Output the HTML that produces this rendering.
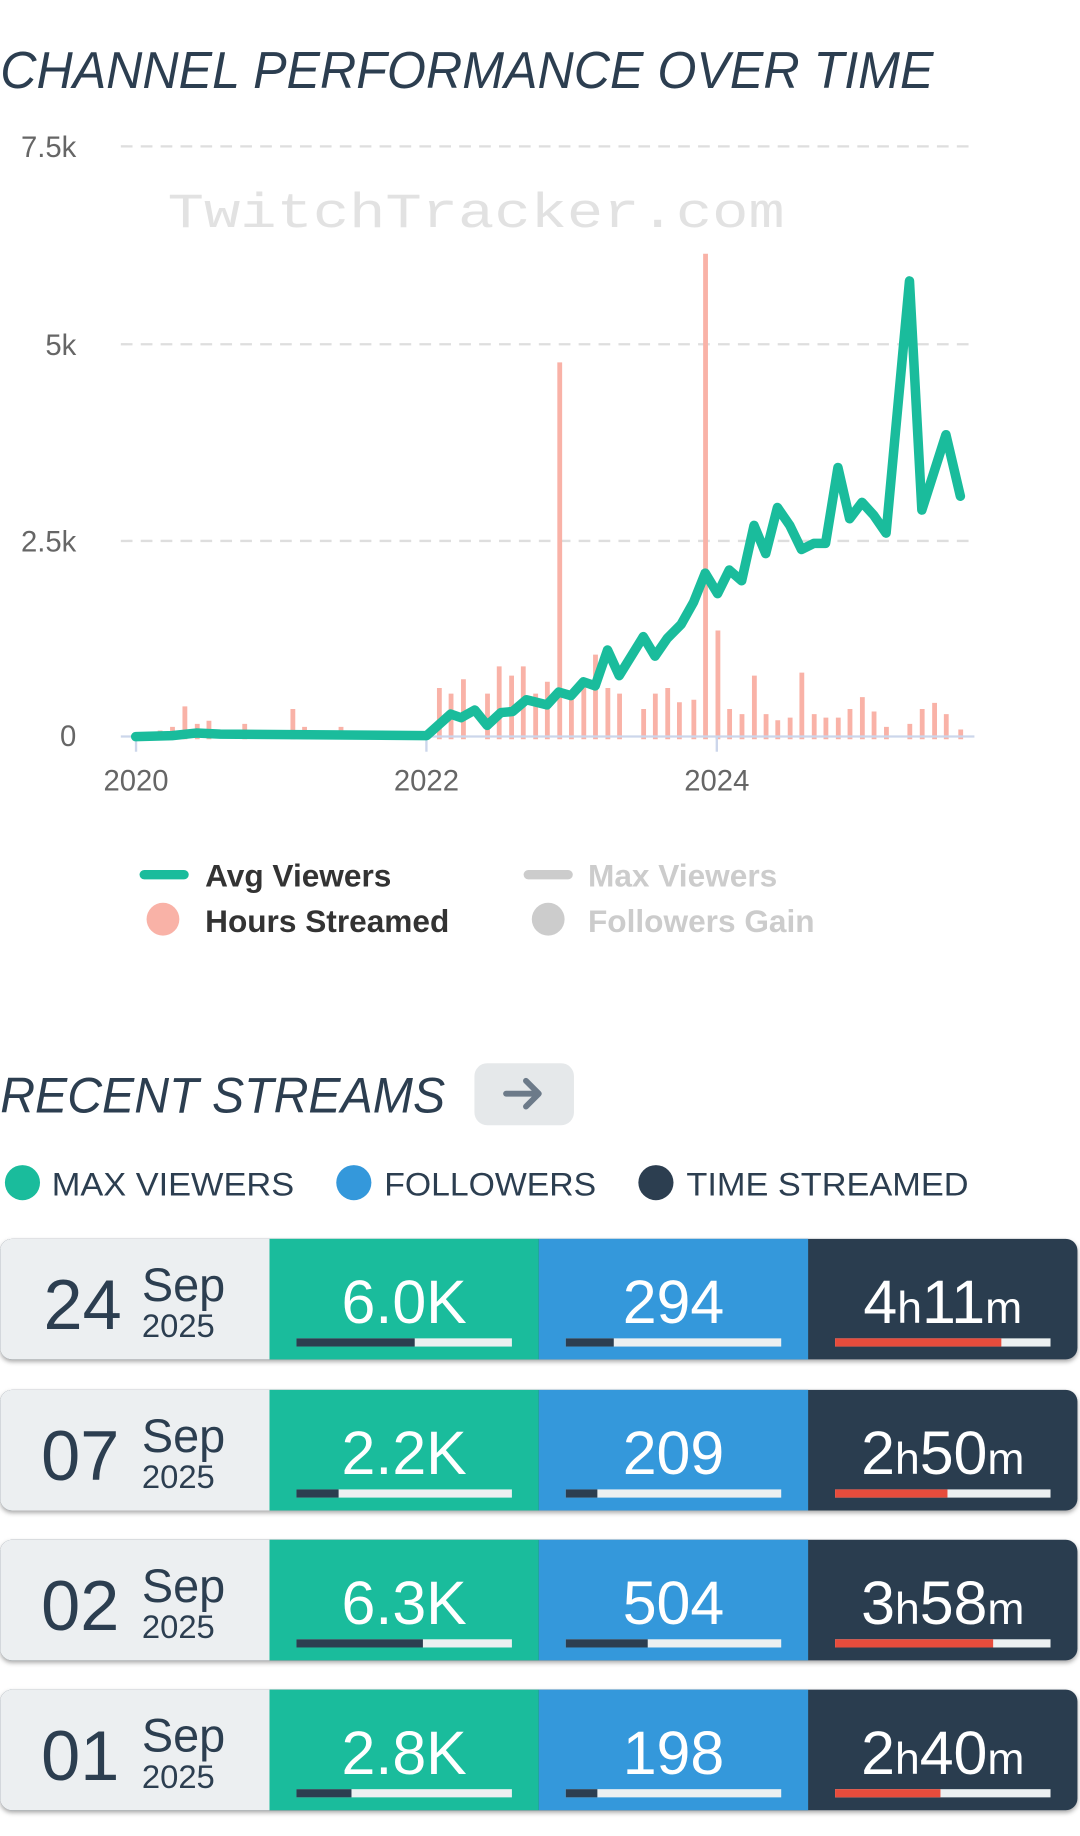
<!DOCTYPE html>
<html><head><meta charset="utf-8"><style>
html,body{margin:0;padding:0;background:#fff;}
svg{display:block;}
text{font-family:"Liberation Sans",sans-serif;}
</style></head><body>
<svg width="1080" height="1836" viewBox="0 0 922 1568" xmlns="http://www.w3.org/2000/svg">
<defs>
<filter id="sh" x="-5%" y="-10%" width="110%" height="130%"><feDropShadow dx="0" dy="2" stdDeviation="2" flood-color="#000" flood-opacity="0.35"/></filter>
</defs>
<text x="0" y="75" font-size="44" font-style="italic" fill="#2c3e50" textLength="797" lengthAdjust="spacingAndGlyphs">CHANNEL PERFORMANCE OVER TIME</text>

<!-- grid -->
<g stroke="#dedede" stroke-width="2" stroke-dasharray="10,7">
<line x1="103" y1="125" x2="832" y2="125"/>
<line x1="103" y1="294" x2="832" y2="294"/>
<line x1="103" y1="462" x2="832" y2="462"/>
</g>
<g font-size="25" fill="#666" text-anchor="end">
<text x="65" y="134">7.5k</text>
<text x="65" y="303">5k</text>
<text x="65" y="471">2.5k</text>
<text x="65" y="637">0</text>
</g>
<text x="143" y="194" style="font-family:'Liberation Mono',monospace" font-size="42" fill="#e2e2e2" textLength="527" lengthAdjust="spacingAndGlyphs">TwitchTracker.com</text>

<!-- bars in zoom coords -->
<g transform="scale(0.5874,0.4378)" fill="#f9b2a7">
<path d="M229 1425h7v17h-7zM247 1418h7v24h-7zM265 1378h7v64h-7zM283 1412h7v30h-7zM300 1406h7v36h-7zM352 1412h7v30h-7zM422 1383h7v59h-7zM439 1418h7v24h-7zM492 1418h7v24h-7zM635 1342h7v100h-7zM652 1353h7v89h-7zM670 1325h7v117h-7zM705 1353h7v89h-7zM722 1300h7v142h-7zM740 1318h7v124h-7zM757 1300h7v142h-7zM775 1353h7v89h-7zM792 1330h7v112h-7zM810 707h7v735h-7zM827 1355h7v87h-7zM845 1330h7v112h-7zM862 1277h7v165h-7zM880 1342h7v100h-7zM897 1353h7v89h-7zM932 1383h7v59h-7zM949 1353h7v89h-7zM967 1342h7v100h-7zM984 1370h7v72h-7zM1005 1365h7v77h-7zM1022 495h7v947h-7zM1040 1230h7v212h-7zM1057 1383h7v59h-7zM1075 1393h7v49h-7zM1093 1318h7v124h-7zM1110 1393h7v49h-7zM1127 1405h7v37h-7zM1145 1400h7v42h-7zM1162 1312h7v130h-7zM1180 1393h7v49h-7zM1197 1400h7v42h-7zM1215 1400h7v42h-7zM1232 1383h7v59h-7zM1250 1360h7v82h-7zM1267 1388h7v54h-7zM1285 1418h7v24h-7zM1319 1412h7v30h-7zM1337 1383h7v59h-7zM1355 1371h7v71h-7zM1372 1393h7v49h-7zM1393 1423h7v19h-7z"/>
</g>
<!-- axis -->
<line x1="103" y1="629" x2="832" y2="629" stroke="#ccd6eb" stroke-width="2"/>
<g stroke="#ccd6eb" stroke-width="2">
<line x1="116" y1="629" x2="116" y2="642"/><line x1="364" y1="629" x2="364" y2="642"/><line x1="612" y1="629" x2="612" y2="642"/>
</g>
<g font-size="25" fill="#666" text-anchor="middle">
<text x="116" y="675">2020</text><text x="364" y="675">2022</text><text x="612" y="675">2024</text>
</g>
<!-- line -->
<g transform="scale(0.5874,0.4378)">
<polyline fill="none" stroke="#1abc9c" stroke-width="9.5" stroke-linejoin="round" stroke-linecap="round" vector-effect="non-scaling-stroke" points="197,1437 250,1435 285,1430 320,1432 620,1435 655,1393 670,1400 690,1385 708,1415 728,1390 745,1388 765,1365 795,1375 812,1350 830,1357 848,1330 865,1338 883,1268 900,1318 935,1242 952,1280 970,1245 990,1218 1008,1175 1025,1118 1043,1158 1060,1112 1078,1133 1096,1025 1113,1080 1130,990 1148,1025 1165,1072 1183,1060 1200,1060 1218,912 1235,1012 1253,980 1270,1005 1288,1040 1322,548 1340,995 1375,848 1396,968"/>
</g>

<!-- legend -->
<line x1="123" y1="747" x2="157" y2="747" stroke="#1abc9c" stroke-width="8" stroke-linecap="round"/>
<text x="175" y="757" font-size="27" font-weight="bold" fill="#333">Avg Viewers</text>
<circle cx="139" cy="785" r="14" fill="#f9b2a7"/>
<text x="175" y="796" font-size="27" font-weight="bold" fill="#333">Hours Streamed</text>
<line x1="451" y1="747" x2="485" y2="747" stroke="#ccc" stroke-width="8" stroke-linecap="round"/>
<text x="502" y="757" font-size="27" font-weight="bold" fill="#ccc">Max Viewers</text>
<circle cx="468" cy="785" r="14" fill="#ccc"/>
<text x="502" y="796" font-size="27" font-weight="bold" fill="#ccc">Followers Gain</text>

<!-- recent streams -->
<text x="0" y="950" font-size="43" font-style="italic" fill="#2c3e50" textLength="380" lengthAdjust="spacingAndGlyphs">RECENT STREAMS</text>
<rect x="405" y="908" width="85" height="53" rx="11" fill="#e5e8ea"/>
<path d="M432 934h28M449 923l11 11-11 11" stroke="#6c7a89" stroke-width="5" fill="none" stroke-linecap="round" stroke-linejoin="round"/>

<circle cx="19" cy="1010" r="15" fill="#1abc9c"/>
<text x="44" y="1021" font-size="28" fill="#2c3e50" textLength="207" lengthAdjust="spacingAndGlyphs">MAX VIEWERS</text>
<circle cx="302" cy="1010" r="15" fill="#3498db"/>
<text x="328" y="1021" font-size="28" fill="#2c3e50" textLength="181" lengthAdjust="spacingAndGlyphs">FOLLOWERS</text>
<circle cx="560" cy="1010" r="15" fill="#2c3e50"/>
<text x="586" y="1021" font-size="28" fill="#2c3e50" textLength="241" lengthAdjust="spacingAndGlyphs">TIME STREAMED</text>

<!-- rows -->
<g transform="translate(0,1058)">
<g filter="url(#sh)"><rect x="0" y="0" width="920" height="103" rx="10" fill="#2c3e50"/></g>
<path d="M10 0H230V103H10A10 10 0 0 1 0 93V10A10 10 0 0 1 10 0Z" fill="#eceff1"/>
<rect x="230" y="0" width="230" height="103" fill="#1abc9c"/>
<rect x="460" y="0" width="230" height="103" fill="#3498db"/>
<text x="37" y="77" font-size="60" fill="#2c3e50">24</text>
<text x="121" y="53" font-size="40" fill="#2c3e50">Sep</text>
<text x="121" y="84" font-size="28" fill="#2c3e50">2025</text>
<text x="345" y="72" font-size="52" fill="#fff" text-anchor="middle">6.0K</text>
<text x="575" y="72" font-size="52" fill="#fff" text-anchor="middle">294</text>
<text x="805" y="72" font-size="52" fill="#fff" text-anchor="middle">4<tspan font-size="38">h</tspan>11<tspan font-size="38">m</tspan></text>
<rect x="253" y="85" width="184" height="7" fill="#ecf0f1"/><rect x="253" y="85" width="101" height="7" fill="#2c3e50"/>
<rect x="483" y="85" width="184" height="7" fill="#ecf0f1"/><rect x="483" y="85" width="41" height="7" fill="#2c3e50"/>
<rect x="713" y="85" width="184" height="7" fill="#ecf0f1"/><rect x="713" y="85" width="142" height="7" fill="#e74c3c"/>
</g>
<g transform="translate(0,1187)">
<g filter="url(#sh)"><rect x="0" y="0" width="920" height="103" rx="10" fill="#2c3e50"/></g>
<path d="M10 0H230V103H10A10 10 0 0 1 0 93V10A10 10 0 0 1 10 0Z" fill="#eceff1"/>
<rect x="230" y="0" width="230" height="103" fill="#1abc9c"/>
<rect x="460" y="0" width="230" height="103" fill="#3498db"/>
<text x="35" y="77" font-size="60" fill="#2c3e50">07</text>
<text x="121" y="53" font-size="40" fill="#2c3e50">Sep</text>
<text x="121" y="84" font-size="28" fill="#2c3e50">2025</text>
<text x="345" y="72" font-size="52" fill="#fff" text-anchor="middle">2.2K</text>
<text x="575" y="72" font-size="52" fill="#fff" text-anchor="middle">209</text>
<text x="805" y="72" font-size="52" fill="#fff" text-anchor="middle">2<tspan font-size="38">h</tspan>50<tspan font-size="38">m</tspan></text>
<rect x="253" y="85" width="184" height="7" fill="#ecf0f1"/><rect x="253" y="85" width="36" height="7" fill="#2c3e50"/>
<rect x="483" y="85" width="184" height="7" fill="#ecf0f1"/><rect x="483" y="85" width="27" height="7" fill="#2c3e50"/>
<rect x="713" y="85" width="184" height="7" fill="#ecf0f1"/><rect x="713" y="85" width="96" height="7" fill="#e74c3c"/>
</g>
<g transform="translate(0,1315)">
<g filter="url(#sh)"><rect x="0" y="0" width="920" height="103" rx="10" fill="#2c3e50"/></g>
<path d="M10 0H230V103H10A10 10 0 0 1 0 93V10A10 10 0 0 1 10 0Z" fill="#eceff1"/>
<rect x="230" y="0" width="230" height="103" fill="#1abc9c"/>
<rect x="460" y="0" width="230" height="103" fill="#3498db"/>
<text x="35" y="77" font-size="60" fill="#2c3e50">02</text>
<text x="121" y="53" font-size="40" fill="#2c3e50">Sep</text>
<text x="121" y="84" font-size="28" fill="#2c3e50">2025</text>
<text x="345" y="72" font-size="52" fill="#fff" text-anchor="middle">6.3K</text>
<text x="575" y="72" font-size="52" fill="#fff" text-anchor="middle">504</text>
<text x="805" y="72" font-size="52" fill="#fff" text-anchor="middle">3<tspan font-size="38">h</tspan>58<tspan font-size="38">m</tspan></text>
<rect x="253" y="85" width="184" height="7" fill="#ecf0f1"/><rect x="253" y="85" width="108" height="7" fill="#2c3e50"/>
<rect x="483" y="85" width="184" height="7" fill="#ecf0f1"/><rect x="483" y="85" width="70" height="7" fill="#2c3e50"/>
<rect x="713" y="85" width="184" height="7" fill="#ecf0f1"/><rect x="713" y="85" width="135" height="7" fill="#e74c3c"/>
</g>
<g transform="translate(0,1443)">
<g filter="url(#sh)"><rect x="0" y="0" width="920" height="103" rx="10" fill="#2c3e50"/></g>
<path d="M10 0H230V103H10A10 10 0 0 1 0 93V10A10 10 0 0 1 10 0Z" fill="#eceff1"/>
<rect x="230" y="0" width="230" height="103" fill="#1abc9c"/>
<rect x="460" y="0" width="230" height="103" fill="#3498db"/>
<text x="35" y="77" font-size="60" fill="#2c3e50">01</text>
<text x="121" y="53" font-size="40" fill="#2c3e50">Sep</text>
<text x="121" y="84" font-size="28" fill="#2c3e50">2025</text>
<text x="345" y="72" font-size="52" fill="#fff" text-anchor="middle">2.8K</text>
<text x="575" y="72" font-size="52" fill="#fff" text-anchor="middle">198</text>
<text x="805" y="72" font-size="52" fill="#fff" text-anchor="middle">2<tspan font-size="38">h</tspan>40<tspan font-size="38">m</tspan></text>
<rect x="253" y="85" width="184" height="7" fill="#ecf0f1"/><rect x="253" y="85" width="47" height="7" fill="#2c3e50"/>
<rect x="483" y="85" width="184" height="7" fill="#ecf0f1"/><rect x="483" y="85" width="27" height="7" fill="#2c3e50"/>
<rect x="713" y="85" width="184" height="7" fill="#ecf0f1"/><rect x="713" y="85" width="90" height="7" fill="#e74c3c"/>
</g>
</svg>
</body></html>
